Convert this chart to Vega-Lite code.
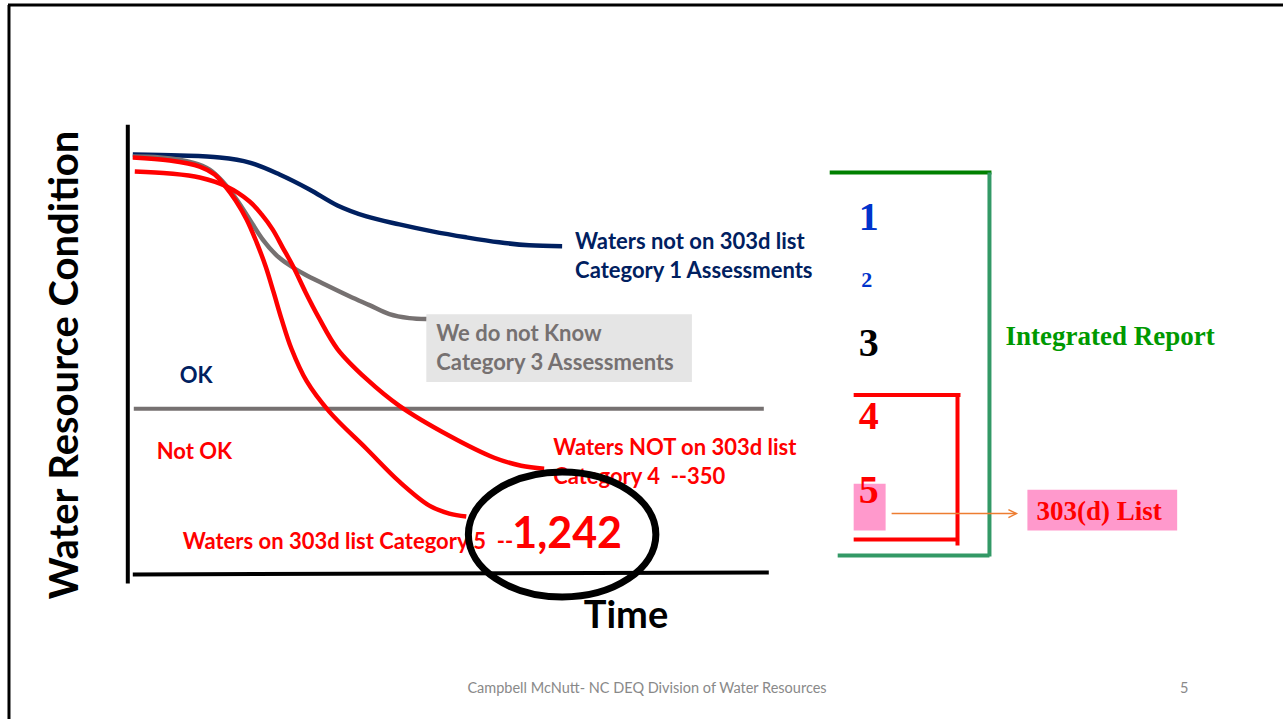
{
  "$schema": "https://vega.github.io/schema/vega-lite/v6.json",
  "width": 1285,
  "height": 721,
  "autosize": {"type": "fit", "contains": "padding"},
  "padding": 0,
  "background": "white",
  "config": {"view": {"stroke": null}},
  "resolve": {"scale": {"color": "independent"}},
  "datasets": {
    "curves": [
      {"s": "c1", "x": 133, "y": 155}, {"s": "c1", "x": 180, "y": 156}, {"s": "c1", "x": 220, "y": 158}, {"s": "c1", "x": 250, "y": 163}, {"s": "c1", "x": 280, "y": 175}, {"s": "c1", "x": 310, "y": 190}, {"s": "c1", "x": 338, "y": 206}, {"s": "c1", "x": 367, "y": 217}, {"s": "c1", "x": 400, "y": 225}, {"s": "c1", "x": 433, "y": 232}, {"s": "c1", "x": 467, "y": 238}, {"s": "c1", "x": 500, "y": 243}, {"s": "c1", "x": 530, "y": 246}, {"s": "c1", "x": 563, "y": 247},
      {"s": "c3", "x": 133, "y": 157}, {"s": "c3", "x": 160, "y": 158}, {"s": "c3", "x": 193, "y": 163}, {"s": "c3", "x": 210, "y": 170}, {"s": "c3", "x": 223, "y": 182}, {"s": "c3", "x": 237, "y": 200}, {"s": "c3", "x": 250, "y": 220}, {"s": "c3", "x": 263, "y": 240}, {"s": "c3", "x": 277, "y": 256}, {"s": "c3", "x": 290, "y": 266}, {"s": "c3", "x": 305, "y": 275}, {"s": "c3", "x": 325, "y": 285}, {"s": "c3", "x": 350, "y": 297}, {"s": "c3", "x": 370, "y": 306}, {"s": "c3", "x": 390, "y": 315}, {"s": "c3", "x": 410, "y": 319}, {"s": "c3", "x": 427, "y": 320},
      {"s": "c5", "x": 133, "y": 158}, {"s": "c5", "x": 170, "y": 161}, {"s": "c5", "x": 200, "y": 167}, {"s": "c5", "x": 215, "y": 175}, {"s": "c5", "x": 225, "y": 186}, {"s": "c5", "x": 236, "y": 201}, {"s": "c5", "x": 247, "y": 220}, {"s": "c5", "x": 257, "y": 243}, {"s": "c5", "x": 266, "y": 267}, {"s": "c5", "x": 274, "y": 293}, {"s": "c5", "x": 282, "y": 320}, {"s": "c5", "x": 292, "y": 350}, {"s": "c5", "x": 307, "y": 382}, {"s": "c5", "x": 330, "y": 413}, {"s": "c5", "x": 367, "y": 450}, {"s": "c5", "x": 400, "y": 483}, {"s": "c5", "x": 430, "y": 507}, {"s": "c5", "x": 450, "y": 515}, {"s": "c5", "x": 467, "y": 518},
      {"s": "c4", "x": 135, "y": 172}, {"s": "c4", "x": 170, "y": 174}, {"s": "c4", "x": 200, "y": 178}, {"s": "c4", "x": 227, "y": 187}, {"s": "c4", "x": 250, "y": 202}, {"s": "c4", "x": 262, "y": 215}, {"s": "c4", "x": 273, "y": 230}, {"s": "c4", "x": 283, "y": 248}, {"s": "c4", "x": 294, "y": 268}, {"s": "c4", "x": 306, "y": 293}, {"s": "c4", "x": 319, "y": 318}, {"s": "c4", "x": 338, "y": 350}, {"s": "c4", "x": 367, "y": 380}, {"s": "c4", "x": 400, "y": 407}, {"s": "c4", "x": 450, "y": 437}, {"s": "c4", "x": 495, "y": 459}, {"s": "c4", "x": 522, "y": 467}, {"s": "c4", "x": 545, "y": 470}
    ],
    "segments": [
      {"g": "frame", "x": 8, "y": 5, "x2": 1285, "y2": 5},
      {"g": "frame", "x": 9, "y": 5, "x2": 9, "y2": 721},
      {"g": "axis", "x": 128, "y": 125, "x2": 128, "y2": 585},
      {"g": "axis", "x": 133, "y": 576, "x2": 770, "y2": 574},
      {"g": "threshold", "x": 134, "y": 410, "x2": 765, "y2": 410},
      {"g": "irtop", "x": 831, "y": 173, "x2": 993, "y2": 173},
      {"g": "ir", "x": 991, "y": 173, "x2": 991, "y2": 558},
      {"g": "ir", "x": 839, "y": 557, "x2": 991, "y2": 557},
      {"g": "b303", "x": 855, "y": 396, "x2": 962, "y2": 396},
      {"g": "b303", "x": 959, "y": 396, "x2": 959, "y2": 547},
      {"g": "b303", "x": 855, "y": 541, "x2": 959, "y2": 541},
      {"g": "arrow", "x": 893, "y": 515, "x2": 1018, "y2": 515}
    ],
    "boxes": [
      {"g": "unknown", "x": 427, "y": 315, "x2": 693, "y2": 383},
      {"g": "pink", "x": 855, "y": 485, "x2": 887, "y2": 532},
      {"g": "pink", "x": 1029, "y": 491, "x2": 1179, "y2": 532}
    ],
    "notes": [
      {"g": "navy", "t": "Waters not on 303d list", "x": 576, "y": 243},
      {"g": "navy", "t": "Category 1 Assessments", "x": 576, "y": 272},
      {"g": "gray", "t": "We do not Know", "x": 437, "y": 335},
      {"g": "gray", "t": "Category 3 Assessments", "x": 437, "y": 364},
      {"g": "navy", "t": "OK", "x": 180, "y": 377},
      {"g": "red", "t": "Not OK", "x": 157, "y": 453},
      {"g": "red", "t": "Waters NOT on 303d list", "x": 554, "y": 449},
      {"g": "red", "t": "Category 4\u00a0 --350", "x": 554, "y": 478},
      {"g": "red", "t": "Waters on 303d list Category 5\u00a0 --", "x": 183, "y": 544}
    ],
    "big": [{"t": "1,242", "x": 513, "y": 536}],
    "ytitle": [{"t": "Water Resource Condition", "x": 66, "y": 366}],
    "xtitle": [{"t": "Time", "x": 627, "y": 619}],
    "cats": [
      {"g": "blue", "t": "1", "x": 870, "y": 219},
      {"g": "black", "t": "3", "x": 870, "y": 345},
      {"g": "red", "t": "4", "x": 870, "y": 418},
      {"g": "red", "t": "5", "x": 870, "y": 492}
    ],
    "cat2": [{"t": "2", "x": 868, "y": 281}],
    "serifLabels": [
      {"g": "green", "t": "Integrated Report", "x": 1007, "y": 338},
      {"g": "red", "t": "303(d) List", "x": 1038, "y": 513}
    ],
    "footer": [
      {"t": "Campbell McNutt- NC DEQ Division of Water Resources", "x": 648, "y": 691},
      {"t": "5", "x": 1186, "y": 691}
    ],
    "arrowhead": [{"x": 1015, "y": 515}],
    "ellipse": [{"x": 563, "y": 536}]
  },
  "encoding": {
    "x": {"field": "x", "type": "quantitative", "scale": {"domain": [0, 1285], "nice": false, "zero": false}, "axis": null},
    "y": {"field": "y", "type": "quantitative", "scale": {"domain": [0, 721], "nice": false, "zero": false, "reverse": true}, "axis": null}
  },
  "layer": [
    {
      "data": {"name": "boxes"},
      "mark": {"type": "rect"},
      "encoding": {
        "x2": {"field": "x2"},
        "y2": {"field": "y2"},
        "color": {"field": "g", "type": "nominal", "scale": {"domain": ["unknown", "pink"], "range": ["#e5e5e5", "#ff99cc"]}, "legend": null}
      }
    },
    {
      "data": {"name": "segments"},
      "transform": [{"filter": "datum.g === 'frame'"}],
      "mark": {"type": "rule", "strokeWidth": 3, "color": "black"},
      "encoding": {"x2": {"field": "x2"}, "y2": {"field": "y2"}}
    },
    {
      "data": {"name": "segments"},
      "transform": [{"filter": "datum.g !== 'frame' && datum.g !== 'arrow'"}],
      "mark": {"type": "rule", "strokeWidth": 4},
      "encoding": {
        "x2": {"field": "x2"},
        "y2": {"field": "y2"},
        "color": {"field": "g", "type": "nominal", "scale": {"domain": ["axis", "threshold", "irtop", "ir", "b303"], "range": ["#000000", "#767171", "#008000", "#339966", "#ff0000"]}, "legend": null}
      }
    },
    {
      "data": {"name": "curves"},
      "mark": {"type": "line", "strokeWidth": 4.5, "interpolate": "catmull-rom", "strokeCap": "butt"},
      "encoding": {
        "color": {"field": "s", "type": "nominal", "scale": {"domain": ["c1", "c3", "c4", "c5"], "range": ["#002060", "#767171", "#ff0000", "#ff0000"]}, "legend": null},
        "detail": {"field": "s"}
      }
    },
    {
      "data": {"name": "ytitle"},
      "mark": {"type": "text", "angle": 270, "align": "center", "baseline": "middle", "font": "Lato", "fontWeight": "bold", "fontSize": 40, "color": "black"},
      "encoding": {"text": {"field": "t"}}
    },
    {
      "data": {"name": "xtitle"},
      "mark": {"type": "text", "align": "center", "baseline": "middle", "font": "Lato", "fontWeight": "bold", "fontSize": 38, "color": "black"},
      "encoding": {"text": {"field": "t"}}
    },
    {
      "data": {"name": "notes"},
      "mark": {"type": "text", "align": "left", "baseline": "middle", "font": "Lato", "fontWeight": "bold", "fontSize": 22},
      "encoding": {
        "text": {"field": "t"},
        "color": {"field": "g", "type": "nominal", "scale": {"domain": ["navy", "gray", "red"], "range": ["#002060", "#767171", "#ff0000"]}, "legend": null}
      }
    },
    {
      "data": {"name": "big"},
      "mark": {"type": "text", "align": "left", "baseline": "middle", "font": "Lato", "fontWeight": "bold", "fontSize": 43, "color": "#ff0000"},
      "encoding": {"text": {"field": "t"}}
    },
    {
      "data": {"name": "cats"},
      "mark": {"type": "text", "align": "center", "baseline": "middle", "font": "Liberation Serif", "fontWeight": "bold", "fontSize": 40},
      "encoding": {
        "text": {"field": "t"},
        "color": {"field": "g", "type": "nominal", "scale": {"domain": ["blue", "black", "red"], "range": ["#0033cc", "#000000", "#ff0000"]}, "legend": null}
      }
    },
    {
      "data": {"name": "cat2"},
      "mark": {"type": "text", "align": "center", "baseline": "middle", "font": "Liberation Serif", "fontWeight": "bold", "fontSize": 22, "color": "#0033cc"},
      "encoding": {"text": {"field": "t"}}
    },
    {
      "data": {"name": "serifLabels"},
      "mark": {"type": "text", "align": "left", "baseline": "middle", "font": "Liberation Serif", "fontWeight": "bold", "fontSize": 27},
      "encoding": {
        "text": {"field": "t"},
        "color": {"field": "g", "type": "nominal", "scale": {"domain": ["green", "red"], "range": ["#009900", "#ff0000"]}, "legend": null}
      }
    },
    {
      "data": {"name": "footer"},
      "mark": {"type": "text", "align": "center", "baseline": "middle", "font": "Lato", "fontSize": 14.5, "color": "#898989"},
      "encoding": {"text": {"field": "t"}}
    },
    {
      "data": {"name": "segments"},
      "transform": [{"filter": "datum.g === 'arrow'"}],
      "mark": {"type": "rule", "strokeWidth": 1.5, "color": "#ed7d31"},
      "encoding": {"x2": {"field": "x2"}, "y2": {"field": "y2"}}
    },
    {
      "data": {"name": "arrowhead"},
      "mark": {"type": "point", "shape": "M -1 -0.8 L 0.6 0 L -1 0.8", "filled": false, "size": 100, "strokeWidth": 1.5, "color": "#ed7d31", "opacity": 1},
      "encoding": {}
    },
    {
      "data": {"name": "ellipse"},
      "mark": {"type": "point", "shape": "M 1.5 0 C 1.5 0.5523 0.8284 1 0 1 C -0.8284 1 -1.5 0.5523 -1.5 0 C -1.5 -0.5523 -0.8284 -1 0 -1 C 0.8284 -1 1.5 -0.5523 1.5 0 Z", "filled": false, "size": 15625, "strokeWidth": 7, "color": "black", "opacity": 1},
      "encoding": {}
    }
  ]
}
